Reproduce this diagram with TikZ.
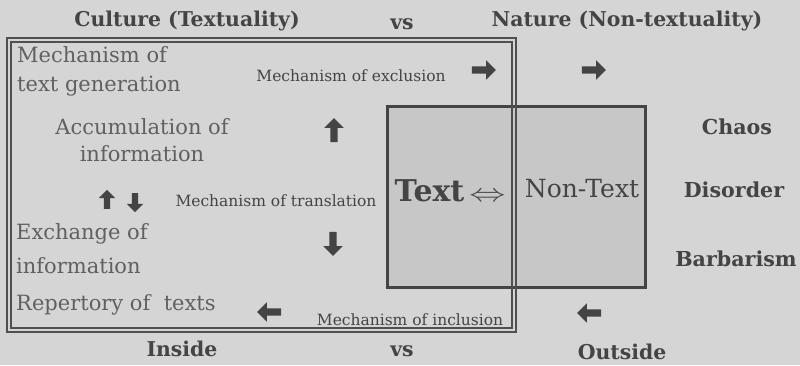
\documentclass[tikz,border=0pt]{standalone}
\usepackage{fontspec}
\setmainfont{DejaVu Serif}
\usetikzlibrary{positioning, shapes.arrows}
\definecolor{paper}{RGB}{213,213,213}
\definecolor{boxgray}{RGB}{199,199,199}
\definecolor{ink}{RGB}{68,68,68}
\definecolor{lite}{RGB}{96,96,96}
\definecolor{rule}{RGB}{80,80,80}

\begin{document}
\begin{tikzpicture}[
  x=1pt, y=-1pt,
  every node/.style={inner sep=0pt, text=ink},
  hdr/.style    = {font=\bfseries\fontsize{20.4}{23}\selectfont},
  side/.style   = {font=\bfseries\fontsize{20.6}{24}\selectfont},
  soft/.style   = {font=\fontsize{21}{28}\selectfont, text=lite, align=left},
  mech/.style   = {font=\fontsize{15.5}{18}\selectfont},
  blk/.style    = {single arrow, fill=ink, draw=none, inner sep=3.5pt,
                   single arrow head extend=6pt, single arrow head indent=0pt, minimum height=24pt},
  smallblk/.style = {blk, inner sep=3pt, single arrow head extend=5pt, minimum height=19pt},
  framebox/.style = {draw=rule, line width=1.1pt},
]
  \useasboundingbox[fill=paper] (0,0) rectangle (800,365);

  % Text / Non-Text block, then the double frame of culture over it
  \node[draw=ink, line width=3pt, fill=boxgray, minimum width=258pt, minimum height=181pt] (tbox) at (516,196.5) {};
  \draw[framebox] (7,38) rectangle (516,332);
  \draw[framebox] (11,42) rectangle (512,328);

  % headings
  \node[hdr] (culture) at (187,21) {Culture (Textuality)};
  \node[hdr] (vstop)   at (402,24) {vs};
  \node[hdr] (nature)  at (627,21) {Nature (Non-textuality)};
  \node[hdr] (inside)  at (182,349) {Inside};
  \node[hdr] (vsbot)   at (402,351) {vs};
  \node[hdr] (outside) at (622,352) {Outside};

  % inside the frame
  \node[soft, anchor=west, font=\fontsize{21}{29}\selectfont] (gen) at (17,71) {Mechanism of\\text generation};
  \node[soft, align=center, font=\fontsize{21}{27}\selectfont] (accum) at (142,140) {Accumulation of\\information};
  \node[soft, anchor=west, font=\fontsize{21}{34}\selectfont] (exch) at (16,249) {Exchange of\\information};
  \node[soft, anchor=west] (rep) at (16,305) {Repertory of~ texts};
  \node[mech] (excl)   at (351,76)  {Mechanism of exclusion};
  \node[mech] (transl) at (276,201) {Mechanism of translation};
  \node[mech] (incl)   at (410,320) {Mechanism of inclusion};

  \node (text) at (450,191) {{\bfseries\fontsize{30}{33}\selectfont Text}\hspace{5pt}\scalebox{1.45}[1]{\fontsize{24}{26}\selectfont$\Leftrightarrow$}};
  \node[font=\fontsize{25}{28}\selectfont] (nontext) at (582,189) {Non-Text};

  % nature side
  \node[side] (chaos)    at (737,127) {Chaos};
  \node[side] (disorder) at (734,190) {Disorder};
  \node[side] (barbar)   at (736,259) {Barbarism};

  % block arrows
  \foreach \n/\x/\y/\r in {aexcl/482/70/0, aout/592/70/0, aup/334/132/90,
                           adown/333/242/270, aincl/271/312/180, ain/591/313/180}
     \node[blk, shape border rotate=\r] (\n) at (\x,\y) {};
  \node[smallblk, shape border rotate=90]  (atrup)   at (107,201) {};
  \node[smallblk, shape border rotate=270] (atrdown) at (135,201) {};
\end{tikzpicture}
\end{document}
